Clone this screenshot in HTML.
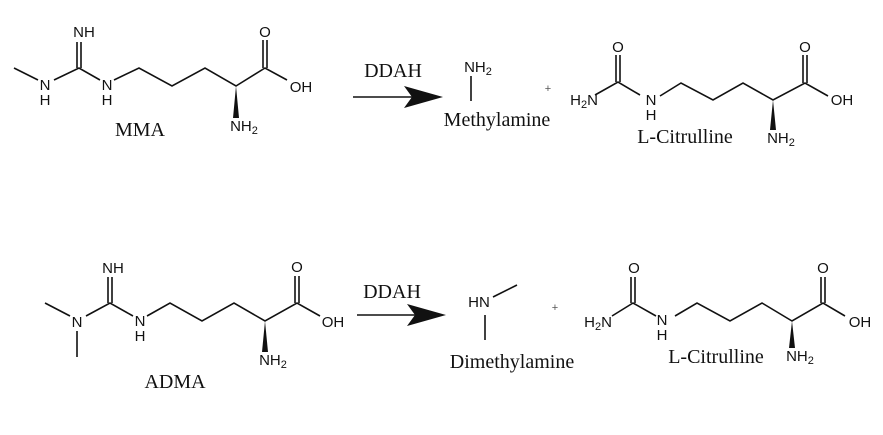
<!DOCTYPE html>
<html><head><style>html,body{margin:0;padding:0;background:#fff}svg{display:block}
.a{font-family:"Liberation Sans",sans-serif;font-size:15px;fill:#111}
.s{font-family:"Liberation Serif",serif;font-size:20px;fill:#111}
</style></head><body>
<svg width="883" height="435" viewBox="0 0 883 435" xmlns="http://www.w3.org/2000/svg">
<g stroke="#111" stroke-width="1.6" fill="none">
<polyline points="14,68 38,80"/>
<polyline points="54,80 79,68 100,80"/>
<line x1="77" y1="42" x2="77" y2="68"/><line x1="81" y1="42" x2="81" y2="68"/>
<polyline points="114,80 139,68 172,86 205,68 236,86 265,68 287,80"/>
<line x1="263" y1="40" x2="263" y2="68"/><line x1="267" y1="40" x2="267" y2="68"/>
<line x1="353" y1="97" x2="412" y2="97"/>
<line x1="471" y1="76" x2="471" y2="101"/>
<polyline points="595,95 618,82 640,95"/>
<line x1="616" y1="55" x2="616" y2="82"/><line x1="620" y1="55" x2="620" y2="82"/>
<polyline points="660,96 681,83 713,100 743,83 773,100 805,83 828,96"/>
<line x1="803" y1="55" x2="803" y2="83"/><line x1="807" y1="55" x2="807" y2="83"/>
<polyline points="45,303 70,316"/>
<line x1="77" y1="331" x2="77" y2="357"/>
<polyline points="86,316 110,303 133,316"/>
<line x1="108" y1="277" x2="108" y2="303"/><line x1="112" y1="277" x2="112" y2="303"/>
<polyline points="147,316 170,303 202,321 234,303 265,321 297,303 320,316"/>
<line x1="295" y1="276" x2="295" y2="303"/><line x1="299" y1="276" x2="299" y2="303"/>
<line x1="357" y1="315" x2="415" y2="315"/>
<line x1="493" y1="297" x2="517" y2="285"/>
<line x1="485" y1="315" x2="485" y2="340"/>
<polyline points="612,316 633,303 656,316"/>
<line x1="631" y1="277" x2="631" y2="303"/><line x1="635" y1="277" x2="635" y2="303"/>
<polyline points="675,316 697,303 730,321 762,303 792,321 823,303 845,316"/>
<line x1="821" y1="277" x2="821" y2="303"/><line x1="825" y1="277" x2="825" y2="303"/>
</g>
<g fill="#111">
<polygon points="404,86 443,97 404,108 412,97"/>
<polygon points="407,304 446,315 407,326 415,315"/>
<polygon points="236,86 233,118 239,118"/>
<polygon points="773,100 770,130 776,130"/>
<polygon points="265,321 262,352 268,352"/>
<polygon points="792,321 789,348 795,348"/>
</g>
<g class="a" text-anchor="middle">
<text x="45" y="90">N</text><text x="45" y="105">H</text>
<text x="84" y="37">NH</text>
<text x="107" y="90">N</text><text x="107" y="105">H</text>
<text x="265" y="37">O</text>
<text x="301" y="92">OH</text>
<text x="244" y="131">NH<tspan font-size="11" dy="3">2</tspan></text>
<text x="478" y="72">NH<tspan font-size="11" dy="3">2</tspan></text>
<text x="584" y="105"><tspan>H</tspan><tspan font-size="11" dy="3">2</tspan><tspan dy="-3">N</tspan></text>
<text x="651" y="105">N</text><text x="651" y="120">H</text>
<text x="618" y="52">O</text>
<text x="805" y="52">O</text>
<text x="842" y="105">OH</text>
<text x="781" y="143">NH<tspan font-size="11" dy="3">2</tspan></text>
<text x="77" y="327">N</text>
<text x="113" y="273">NH</text>
<text x="140" y="326">N</text><text x="140" y="341">H</text>
<text x="297" y="272">O</text>
<text x="333" y="327">OH</text>
<text x="273" y="365">NH<tspan font-size="11" dy="3">2</tspan></text>
<text x="479" y="307">HN</text>
<text x="598" y="327"><tspan>H</tspan><tspan font-size="11" dy="3">2</tspan><tspan dy="-3">N</tspan></text>
<text x="634" y="273">O</text>
<text x="662" y="325">N</text><text x="662" y="340">H</text>
<text x="823" y="273">O</text>
<text x="860" y="327">OH</text>
<text x="800" y="361">NH<tspan font-size="11" dy="3">2</tspan></text>
</g>
<g class="s" text-anchor="middle">
<text x="140" y="136">MMA</text>
<text x="393" y="77">DDAH</text>
<text x="497" y="126">Methylamine</text>
<text x="685" y="143">L-Citrulline</text>
<text x="175" y="388">ADMA</text>
<text x="392" y="298">DDAH</text>
<text x="512" y="368">Dimethylamine</text>
<text x="716" y="363">L-Citrulline</text>
</g>
<g font-family="Liberation Sans,sans-serif" font-size="11" fill="#555" text-anchor="middle">
<text x="548" y="92">+</text>
<text x="555" y="311">+</text>
</g>
</svg>
</body></html>
